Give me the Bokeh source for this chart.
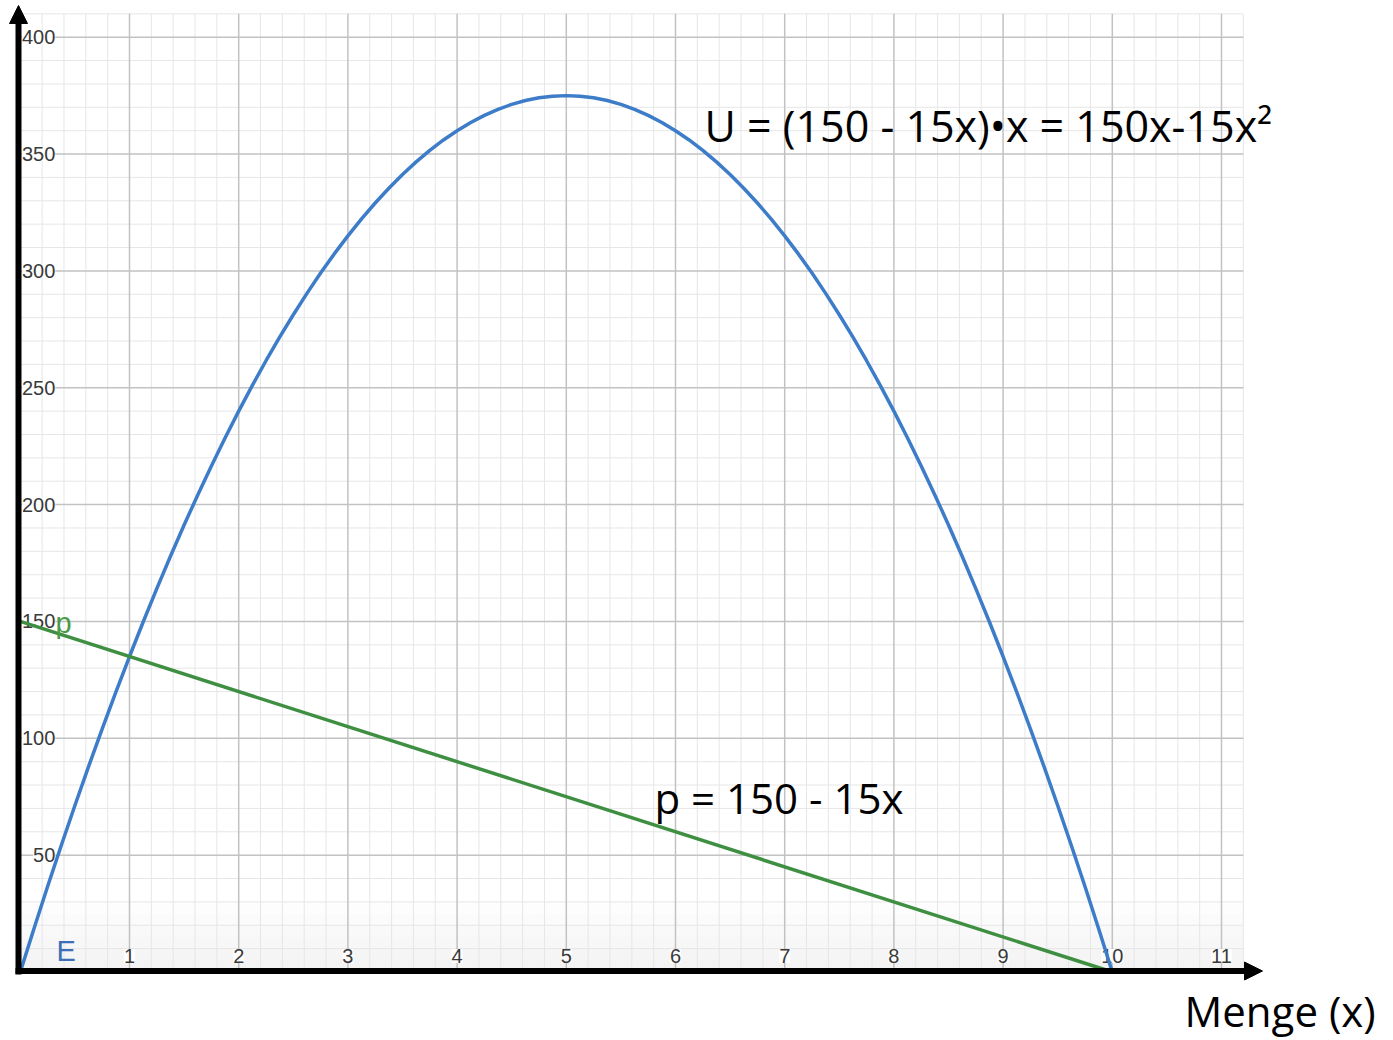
import numpy as np
from bokeh.plotting import figure
from bokeh.models import Range1d, Arrow, NormalHead
from bokeh.core.properties import value
from bokeh.embed import file_html
from bokeh.resources import INLINE

# ---------------- data ----------------
# Umsatz U = (150 - 15x)*x
u_x = [0, 0.125, 0.25, 0.375, 0.5, 0.625, 0.75, 0.875, 1, 1.125, 1.25, 1.375, 1.5, 1.625,
       1.75, 1.875, 2, 2.125, 2.25, 2.375, 2.5, 2.625, 2.75, 2.875, 3, 3.125, 3.25, 3.375,
       3.5, 3.625, 3.75, 3.875, 4, 4.125, 4.25, 4.375, 4.5, 4.625, 4.75, 4.875, 5, 5.125,
       5.25, 5.375, 5.5, 5.625, 5.75, 5.875, 6, 6.125, 6.25, 6.375, 6.5, 6.625, 6.75, 6.875,
       7, 7.125, 7.25, 7.375, 7.5, 7.625, 7.75, 7.875, 8, 8.125, 8.25, 8.375, 8.5, 8.625,
       8.75, 8.875, 9, 9.125, 9.25, 9.375, 9.5, 9.625, 9.75, 9.875, 10]
u_y = [0, 18.52, 36.56, 54.14, 71.25, 87.89, 104.06, 119.77, 135, 149.77, 164.06, 177.89,
       191.25, 204.14, 216.56, 228.52, 240, 251.02, 261.56, 271.64, 281.25, 290.39, 299.06,
       307.27, 315, 322.27, 329.06, 335.39, 341.25, 346.64, 351.56, 356.02, 360, 363.52,
       366.56, 369.14, 371.25, 372.89, 374.06, 374.77, 375, 374.77, 374.06, 372.89, 371.25,
       369.14, 366.56, 363.52, 360, 356.02, 351.56, 346.64, 341.25, 335.39, 329.06, 322.27,
       315, 307.27, 299.06, 290.39, 281.25, 271.64, 261.56, 251.02, 240, 228.52, 216.56,
       204.14, 191.25, 177.89, 164.06, 149.77, 135, 119.77, 104.06, 87.89, 71.25, 54.14,
       36.56, 18.52, 0]
# Preis-Absatz-Funktion p = 150 - 15x
p_x = [0, 10]
p_y = [150, 0]

x_ticks = [1, 2, 3, 4, 5, 6, 7, 8, 9, 10, 11]
x_tick_labels = ["1", "2", "3", "4", "5", "6", "7", "8", "9", "10", "11"]
y_ticks = [50, 100, 150, 200, 250, 300, 350, 400]
y_tick_labels = ["50", "100", "150", "200", "250", "300", "350", "400"]

u_label = "U = (150 - 15x)\u2022x = 150x-15x\u00b2"
p_label = "p = 150 - 15x"
x_axis_label = "Menge (x)"

# ---------------- geometry ----------------
W, H = 1393, 1040
PX_PER_X, PX_PER_Y = 109.2, 2.337
X0_PAGE, Y0_PAGE = 19.8, 971.5
GRID_X_MAX, GRID_Y_MAX = 11.2, 410


def px_to_x(px):
    return (px - X0_PAGE) / PX_PER_X


def py_to_y(py):
    return (Y0_PAGE - py) / PX_PER_Y


p = figure(width=W, height=H,
           x_range=Range1d(px_to_x(0), px_to_x(W)),
           y_range=Range1d(py_to_y(H), py_to_y(0)),
           output_backend="svg", toolbar_location=None,
           x_axis_location=None, y_axis_location=None,
           min_border=0, outline_line_color=None,
           background_fill_color="white", border_fill_color="white")
p.grid.visible = False

# subtle shading near the bottom
for i in range(6):
    p.quad(left=0, right=GRID_X_MAX, bottom=0, top=30 - i * 5,
           fill_color="#000000", fill_alpha=0.008, line_color=None)

# minor grid
xm = [v for v in np.round(np.arange(0.2, GRID_X_MAX + 0.01, 0.2), 2) if abs(v - round(v)) > 1e-6]
ym = [v for v in range(10, GRID_Y_MAX + 1, 10) if v % 50 != 0]
p.segment(x0=xm, y0=0, x1=xm, y1=GRID_Y_MAX, line_color="#e6e6e6", line_width=1)
p.segment(x0=0, y0=ym, x1=GRID_X_MAX, y1=ym, line_color="#e6e6e6", line_width=1)
# major grid
p.segment(x0=x_ticks, y0=0, x1=x_ticks, y1=GRID_Y_MAX, line_color="#c2c2c2", line_width=1.5)
p.segment(x0=0, y0=y_ticks, x1=GRID_X_MAX, y1=y_ticks, line_color="#c2c2c2", line_width=1.5)

tick_font = value("Liberation Sans")
p.text(x=[0] * len(y_ticks), y=y_ticks, text=y_tick_labels, x_offset=35,
       text_align="right", text_baseline="middle", text_font=tick_font,
       text_font_size=value("20px"), text_color="#3a3a3a",
       background_fill_color="white", background_fill_alpha=0.9)
p.text(x=x_ticks, y=[0] * len(x_ticks), text=x_tick_labels, y_offset=-16,
       text_align="center", text_baseline="middle", text_font=tick_font,
       text_font_size=value("20px"), text_color="#3a3a3a",
       background_fill_color="white", background_fill_alpha=0.9)

# curves
p.line(u_x, u_y, line_color="#3d7cc8", line_width=3.5)
p.line(p_x, p_y, line_color="#3f8f42", line_width=3.5)

# small labels
p.text(x=[px_to_x(56)], y=[py_to_y(950)], text=["E"], text_font=tick_font,
       text_font_size=value("29px"), text_color="#3d6fb8",
       text_align="left", text_baseline="middle")
p.text(x=[px_to_x(55)], y=[py_to_y(622)], text=["p"], text_font=tick_font,
       text_font_size=value("29px"), text_color="#4a9a4a",
       text_align="left", text_baseline="middle")

# formulas
big_font = value("Open Sans")
p.text(x=[px_to_x(704)], y=[py_to_y(125)], text=[u_label], text_font=big_font,
       text_font_size=value("43px"), text_color="black",
       text_align="left", text_baseline="middle")
p.text(x=[px_to_x(654)], y=[py_to_y(797)], text=[p_label], text_font=big_font,
       text_font_size=value("42px"), text_color="black",
       text_align="left", text_baseline="middle")
p.text(x=[px_to_x(1184)], y=[py_to_y(1010)], text=[x_axis_label], text_font=big_font,
       text_font_size=value("42px"), text_color="black",
       text_align="left", text_baseline="middle")

# axes with arrow heads
p.add_layout(Arrow(end=NormalHead(size=18, fill_color="black", line_color="black"),
                   x_start=px_to_x(18), y_start=py_to_y(974),
                   x_end=px_to_x(18), y_end=py_to_y(5),
                   line_color="black", line_width=6))
p.add_layout(Arrow(end=NormalHead(size=18, fill_color="black", line_color="black"),
                   x_start=px_to_x(15), y_start=py_to_y(970.5),
                   x_end=px_to_x(1262), y_end=py_to_y(970.5),
                   line_color="black", line_width=6))

open("out.html", "w").write(file_html(p, INLINE))
